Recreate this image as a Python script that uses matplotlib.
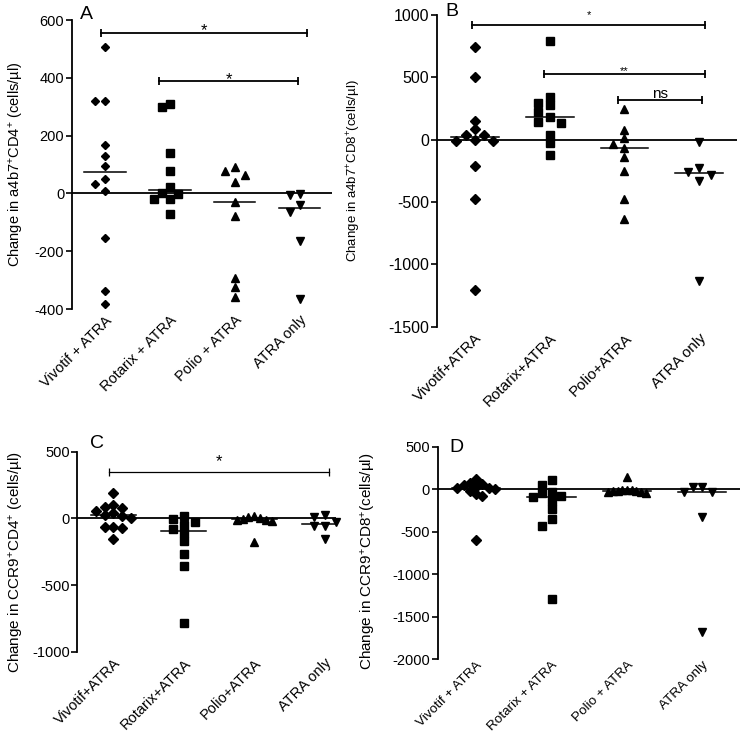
import numpy as np
import matplotlib.pyplot as plt

plt.rcParams['font.family'] = ['Liberation Sans', 'DejaVu Sans']
plt.rcParams['mathtext.default'] = 'regular'
plt.rcParams['axes.unicode_minus'] = False

# Panel A : a4b7+ CD4+
a_vivotif = [507, 319, 319, 166, 131, 96, 50, 32, 9, -155, -338, -382]
a_rotarix = [310, 299, 140, 79, 21, 3, -2, -20, -20, -72]
a_polio = [90, 79, 65, 41, -29, -78, -292, -323, -358]
a_atra = [-2, -6, -40, -64, -165, -365]

# Panel B : a4b7+ CD8+
b_vivotif = [743, 503, 147, 83, 40, 40, -5, -13, -13, -214, -476, -1203]
b_rotarix = [791, 342, 297, 281, 222, 182, 142, 134, 35, -27, -120]
b_polio = [249, 75, 13, -37, -67, -139, -254, -476, -634]
b_atra = [-19, -225, -259, -283, -332, -1136]

# Panel C : CCR9+ CD4+
c_vivotif = [187, 100, 88, 75, 55, 40, 25, 15, 0, -63, -68, -70, -158]
c_rotarix = [20, -7, -25, -50, -82, -108, -167, -267, -358, -787]
c_polio = [15, 8, 0, -5, -10, -15, -20, -175]
c_atra = [25, 12, -25, -57, -57, -157]

# Panel D : CCR9+ CD8+
d_vivotif = [120, 75, 60, 45, 30, 20, 10, 0, -20, -60, -75, -595]
d_rotarix = [110, 47, -35, -47, -80, -90, -137, -235, -350, -429, -1292]
d_polio = [148, -5, -10, -15, -18, -22, -25, -30, -38, -45]
d_atra = [28, 22, -30, -38, -322, -1675]

labels_spaced = ['Vivotif + ATRA', 'Rotarix + ATRA', 'Polio + ATRA', 'ATRA only']
labels_tight = ['Vivotif+ATRA', 'Rotarix+ATRA', 'Polio+ATRA', 'ATRA only']

# significance bars: (x start, x end, level, text)
a_bars = [(-0.06, 3.11, 554, '*'), (0.83, 2.98, 389, '*')]
b_bars = [(-0.04, 3.08, 917, '*'), (0.92, 3.07, 529, '**'), (1.91, 3.03, 316, 'ns')]
c_bars = [(-0.06, 3.06, 350, '*')]

markers = ['D', 's', '^', 'v']
W, H = 741, 732


def swarm(vals, thr, step):
    # simple column layout: points closer than thr share no column
    vals = np.asarray(vals, float)
    offs = np.zeros(len(vals))
    placed = []
    for i in np.argsort(vals)[::-1]:
        v = vals[i]
        for k in (0, -1, 1, -2, 2, -3, 3, -4, 4):
            if all(not (pk == k and abs(pv - v) < thr) for pv, pk in placed):
                break
        placed.append((v, k))
        offs[i] = k
    kmax = max(np.abs(offs).max(), 1)
    s = step if kmax <= 1 else step * 1.6 / kmax
    return offs * s


def panel(box, groups, ylim, yticks, xlabels, ylabel, letter, bars,
          xright=3.5, tick_fs=10.5, lab_fs=10.5, xlab_fs=10.5, xpad=3,
          lab_pos=(-0.17, 0.5), let_pos=(0.03, 1.0), ms=(4.3, 5.3, 5.8, 5.8),
          bar_lw=1.3, bar_txt=None):
    l, t, r, b = box
    ax = fig.add_axes([l / W, 1 - b / H, (r - l) / W, (b - t) / H])
    ax.set_xlim(-0.51, xright)
    ax.set_ylim(*ylim)
    hpx = b - t
    thr = 7.5 * (ylim[1] - ylim[0]) / hpx
    for i, vals in enumerate(groups):
        x = i + swarm(vals, thr, 0.155)
        ax.plot(x, vals, linestyle='none', marker=markers[i], ms=ms[i],
                color='black', clip_on=False)
        med = np.median(vals)
        ax.plot([i - 0.32, i + 0.32], [med, med], color='black', lw=1.1)
    ax.axhline(0, color='black', lw=1.3)
    for spine in ['top', 'right', 'bottom']:
        ax.spines[spine].set_visible(False)
    ax.spines['left'].set_linewidth(1.3)
    ax.set_yticks(yticks)
    ax.tick_params(axis='y', length=4, width=1.2, pad=1.5, labelsize=tick_fs)
    ax.set_xticks(range(4))
    ax.set_xticklabels(xlabels, rotation=45, ha='right', va='top',
                       rotation_mode='anchor', fontsize=xlab_fs)
    ax.tick_params(axis='x', length=0, pad=xpad)
    ax.set_ylabel(ylabel, fontsize=lab_fs)
    ax.yaxis.set_label_coords(*lab_pos)
    ax.text(let_pos[0], let_pos[1], letter, transform=ax.transAxes,
            fontsize=14, va='baseline', ha='left')
    for (x0, x1, lev, txt), (fs, dy) in zip(bars, bar_txt or []):
        ax.plot([x0, x1], [lev, lev], color='black', lw=bar_lw,
                marker='|', ms=6, mew=bar_lw)
        ax.annotate(txt, xy=((x0 + x1) / 2, lev), xytext=(0, dy),
                    textcoords='offset points', ha='center', va='baseline',
                    fontsize=fs)
    return ax


fig = plt.figure(figsize=(W / 100, H / 100), dpi=100)

panel((72, 20, 332, 309), [a_vivotif, a_rotarix, a_polio, a_atra],
      (-400, 600), range(-400, 601, 200), labels_spaced,
      'Change in a4b7$^{+}$CD4$^{+}$ (cells/µl)', 'A', a_bars,
      lab_pos=(-0.175, 0.5), let_pos=(0.03, 1.003),
      bar_txt=[(12, -1.5), (12, -2.5)])

panel((436.7, 15, 736.7, 326.7), [b_vivotif, b_rotarix, b_polio, b_atra],
      (-1500, 1000), range(-1500, 1001, 500), labels_tight,
      'Change in a4b7$^{+}$CD8$^{+}$(cells/µl)', 'B', b_bars,
      tick_fs=11.5, lab_fs=9.5, xlab_fs=11, lab_pos=(-0.245, 0.5),
      let_pos=(0.028, 0.998), ms=(4.8, 5.8, 6.2, 6.2),
      bar_txt=[(8, 5.5), (8, -0.5), (11, 1.5)])

panel((77.3, 451.7, 336, 651.7), [c_vivotif, c_rotarix, c_polio, c_atra],
      (-1000, 500), range(-1000, 501, 500), labels_tight,
      'Change in CCR9$^{+}$CD4$^{+}$ (cells/µl)', 'C', c_bars,
      xright=3.16, tick_fs=10.5, lab_fs=11, xlab_fs=10.5,
      lab_pos=(-0.2, 0.45), let_pos=(0.05, 1.018), ms=(4.8, 5.8, 6.2, 6.2),
      bar_lw=0.9, bar_txt=[(12, 4.0)])

panel((437.7, 446.7, 740, 659.3), [d_vivotif, d_rotarix, d_polio, d_atra],
      (-2000, 500), range(-2000, 501, 500), labels_spaced,
      'Change in CCR9$^{+}$CD8$^{+}$(cells/µl)', 'D', [],
      tick_fs=10.5, lab_fs=11, xlab_fs=9.7, xpad=0, lab_pos=(-0.197, 0.46),
      let_pos=(0.04, 0.975), ms=(4.8, 5.8, 6.2, 6.2))

fig.savefig('out.png', dpi=100)
